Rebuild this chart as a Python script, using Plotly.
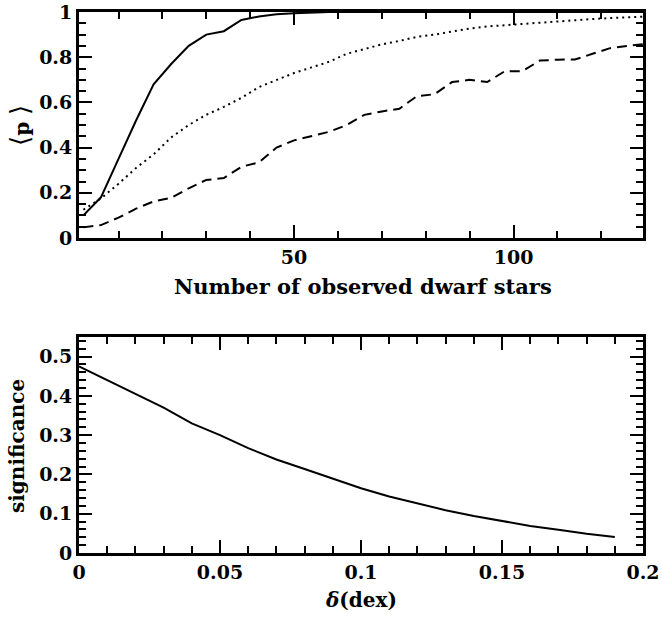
import plotly.graph_objects as go

# Top panel: mean probability vs number of observed dwarf stars
n_stars = [2, 6, 10, 14, 18, 22, 26, 30, 34, 38, 42, 46, 50, 54, 58, 62, 66, 70,
           74, 78, 82, 86, 90, 94, 98, 102, 106, 110, 114, 118, 122, 126, 130]
p_solid = [0.10, 0.18, 0.35, 0.52, 0.68, 0.77, 0.85, 0.90, 0.915, 0.965, 0.98, 0.99,
           0.995, 0.998, 1.0, 1.0, 1.0, 1.0, 1.0, 1.0, 1.0, 1.0, 1.0, 1.0, 1.0, 1.0,
           1.0, 1.0, 1.0, 1.0, 1.0, 1.0, 1.0]
p_dotted = [0.125, 0.175, 0.24, 0.31, 0.37, 0.445, 0.50, 0.545, 0.58, 0.62, 0.668,
            0.70, 0.73, 0.755, 0.78, 0.815, 0.835, 0.857, 0.872, 0.89, 0.90, 0.913,
            0.927, 0.936, 0.942, 0.947, 0.952, 0.957, 0.963, 0.969, 0.973, 0.977, 0.98]
p_dashed = [0.047, 0.057, 0.09, 0.13, 0.162, 0.178, 0.22, 0.257, 0.265, 0.315, 0.335,
            0.40, 0.432, 0.45, 0.47, 0.50, 0.545, 0.56, 0.572, 0.628, 0.636, 0.69,
            0.70, 0.69, 0.738, 0.738, 0.785, 0.789, 0.79, 0.815, 0.84, 0.85, 0.858]

# Bottom panel: significance vs delta (dex)
delta = [0.00, 0.01, 0.02, 0.03, 0.04, 0.05, 0.06, 0.07, 0.08, 0.09, 0.10,
         0.11, 0.12, 0.13, 0.14, 0.15, 0.16, 0.17, 0.18, 0.19]
significance = [0.475, 0.44, 0.405, 0.37, 0.33, 0.30, 0.267, 0.238, 0.214, 0.19,
                0.165, 0.144, 0.127, 0.109, 0.094, 0.081, 0.069, 0.059, 0.049, 0.041]

W, H = 662, 619
FONT = "DejaVu Serif"
tick_font = dict(family=FONT, size=19, color="black", weight="bold")
title_font = dict(family=FONT, size=20, color="black", weight="bold")

fig = go.Figure()
line_kw = dict(color="black", width=2)
fig.add_trace(go.Scatter(x=n_stars, y=p_solid, mode="lines", line=line_kw,
                         xaxis="x", yaxis="y", showlegend=False))
fig.add_trace(go.Scatter(x=n_stars, y=p_dotted, mode="lines",
                         line=dict(color="black", width=2, dash="2px,4px"),
                         xaxis="x", yaxis="y", showlegend=False))
fig.add_trace(go.Scatter(x=n_stars, y=p_dashed, mode="lines",
                         line=dict(color="black", width=2, dash="10px,6px"),
                         xaxis="x", yaxis="y", showlegend=False))
fig.add_trace(go.Scatter(x=delta, y=significance, mode="lines", line=line_kw,
                         xaxis="x2", yaxis="y2", showlegend=False))


def px_x(p):
    return p / W


def px_y(p):
    return 1 - p / H


axis_common = dict(
    showline=True, linecolor="black", linewidth=3, mirror="allticks",
    ticks="inside", ticklen=13, tickwidth=2, tickcolor="black",
    showgrid=False, zeroline=False, tickfont=tick_font, automargin=False,
)


def minor(step):
    return dict(dtick=step, tick0=0, ticklen=7, tickwidth=2,
                tickcolor="black", ticks="inside")


xdom = [px_x(79), px_x(643)]
fig.update_layout(
    width=W, height=H,
    margin=dict(l=0, r=0, t=0, b=0, autoexpand=False),
    plot_bgcolor="white", paper_bgcolor="white",
    xaxis=dict(domain=xdom, range=[1, 129.5], tickvals=[50, 100],
               minor=minor(10), anchor="y", **axis_common),
    yaxis=dict(domain=[px_y(238), px_y(12)], range=[0, 1],
               tickvals=[0, 0.2, 0.4, 0.6, 0.8, 1],
               ticktext=["0", "0.2", "0.4", "0.6", "0.8", "1"],
               minor=minor(0.05), anchor="x", **axis_common),
    xaxis2=dict(domain=xdom, range=[0, 0.2],
                tickvals=[0, 0.05, 0.1, 0.15, 0.2],
                ticktext=["0", "0.05", "0.1", "0.15", "0.2"],
                minor=minor(0.01), anchor="y2", **axis_common),
    yaxis2=dict(domain=[px_y(553), px_y(337)], range=[0, 0.55],
                tickvals=[0, 0.1, 0.2, 0.3, 0.4, 0.5],
                ticktext=["0", "0.1", "0.2", "0.3", "0.4", "0.5"],
                minor=minor(0.02), anchor="x2", **axis_common),
)

bracket = '<span style="font-size:26px;font-weight:normal">'
annotations = [
    dict(text="Number of observed dwarf stars", x=px_x(363), y=px_y(286),
         font=dict(title_font, size=21)),
    dict(text=bracket + "⟨</span>p " + bracket + "⟩</span>",
         x=px_x(20), y=px_y(126), textangle=-90, font=title_font),
    dict(text="significance", x=px_x(17), y=px_y(446), textangle=-90,
         font=title_font),
    dict(text="<i>δ</i>(dex)", x=px_x(361), y=px_y(600), font=title_font),
]
for a in annotations:
    a.update(xref="paper", yref="paper", showarrow=False,
             xanchor="center", yanchor="middle")
fig.update_layout(annotations=annotations)

fig.write_html("out.html")
